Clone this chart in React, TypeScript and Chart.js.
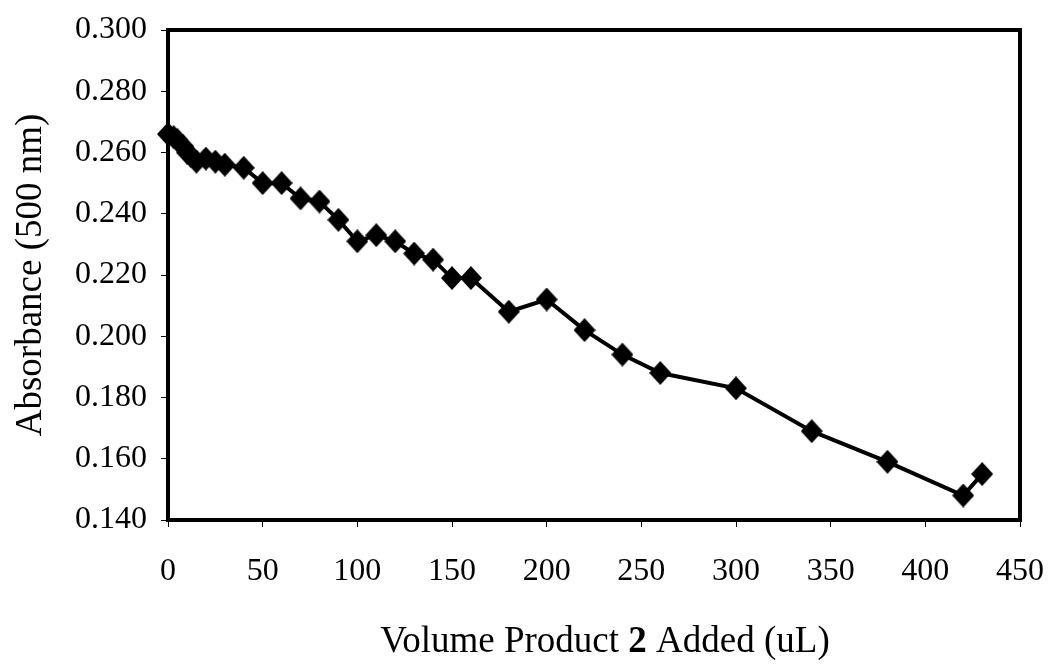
import React, { useEffect, useRef } from "react";
import { Chart, registerables } from "chart.js";

Chart.register(...registerables);

const volumes = [0, 3, 5, 8, 10, 12, 15, 20, 25, 30, 40, 50, 60, 70, 80, 90, 100, 110, 120, 130, 140, 150, 160, 180, 200, 220, 240, 260, 300, 340, 380, 420, 430];
const absorbance = [0.266, 0.265, 0.264, 0.262, 0.260, 0.259, 0.257, 0.258, 0.257, 0.256, 0.255, 0.250, 0.250, 0.245, 0.244, 0.238, 0.231, 0.233, 0.231, 0.227, 0.225, 0.219, 0.219, 0.208, 0.212, 0.202, 0.194, 0.188, 0.183, 0.169, 0.159, 0.148, 0.155];
const yTicks = [0.14, 0.16, 0.18, 0.2, 0.22, 0.24, 0.26, 0.28, 0.3];
const xTicks = [0, 50, 100, 150, 200, 250, 300, 350, 400, 450];
const yTitle = "Absorbance (500 nm)";
const xTitleParts = ["Volume Product ", "2", " Added (uL)"];

const SERIF = "'Liberation Serif', 'Times New Roman', serif";

function makeDiamond(): HTMLCanvasElement {
  const w = 22;
  const h = 24;
  const c = document.createElement("canvas");
  c.width = w;
  c.height = h;
  const g = c.getContext("2d")!;
  g.fillStyle = "#000";
  g.beginPath();
  g.moveTo(w / 2, 0);
  g.lineTo(w, h / 2);
  g.lineTo(w / 2, h);
  g.lineTo(0, h / 2);
  g.closePath();
  g.fill();
  return c;
}

const framePlugin = {
  id: "frame",
  beforeDatasetsDraw(chart: any) {
    const { ctx, chartArea } = chart;
    ctx.save();
    ctx.strokeStyle = "#000";
    ctx.lineWidth = 4;
    ctx.strokeRect(chartArea.left, chartArea.top, chartArea.right - chartArea.left, chartArea.bottom - chartArea.top);
    ctx.restore();
  },
  afterDraw(chart: any) {
    const { ctx } = chart;
    ctx.save();
    ctx.fillStyle = "#000";
    ctx.textBaseline = "alphabetic";
    const fonts = ["37px " + SERIF, "bold 37px " + SERIF, "37px " + SERIF];
    let total = 0;
    const widths = xTitleParts.map((t, i) => {
      ctx.font = fonts[i];
      const w = ctx.measureText(t).width;
      total += w;
      return w;
    });
    let x = 605 - total / 2;
    const y = 652;
    xTitleParts.forEach((t, i) => {
      ctx.font = fonts[i];
      ctx.textAlign = "left";
      ctx.fillText(t, x, y);
      x += widths[i];
    });
    ctx.restore();
  },
};

export default function App() {
  const ref = useRef<HTMLCanvasElement | null>(null);
  useEffect(() => {
    if (!ref.current) return;
    const diamond = makeDiamond();
    const chart = new Chart(ref.current, {
      type: "scatter",
      data: {
        datasets: [
          {
            data: volumes.map((v, i) => ({ x: v, y: absorbance[i] })),
            showLine: true,
            borderColor: "#000",
            backgroundColor: "#000",
            borderWidth: 4,
            pointStyle: diamond as any,
            pointRadius: 11,
            pointBorderWidth: 0,
            pointBackgroundColor: "#000",
            clip: false as any,
          },
        ],
      },
      options: {
        animation: false,
        responsive: false,
        layout: { padding: { top: 30, right: 30, left: 0, bottom: 0 } },
        plugins: { legend: { display: false }, tooltip: { enabled: false } },
        scales: {
          x: {
            type: "linear",
            min: 0,
            max: 450,
            afterBuildTicks: (s: any) => {
              s.ticks = xTicks.map((v) => ({ value: v }));
            },
            afterFit: (s: any) => {
              s.height = 144;
              s.paddingRight = 0;
              s.paddingLeft = 0;
            },
            grid: { drawOnChartArea: false, drawTicks: true, tickLength: 7, color: "#000", lineWidth: 1 },
            border: { display: true, color: "#000", width: 4 },
            ticks: { color: "#000", font: { family: SERIF, size: 32 }, padding: 25, maxRotation: 0 },
          },
          y: {
            type: "linear",
            min: 0.14,
            max: 0.3,
            afterBuildTicks: (s: any) => {
              s.ticks = yTicks.map((v) => ({ value: v }));
            },
            afterFit: (s: any) => {
              s.width = 168;
              s.paddingTop = 0;
              s.paddingBottom = 0;
            },
            grid: { drawOnChartArea: false, drawTicks: true, tickLength: 7, color: "#000", lineWidth: 1 },
            border: { display: true, color: "#000", width: 4 },
            ticks: {
              color: "#000",
              font: { family: SERIF, size: 32 },
              padding: 14,
              callback: (v: any) => Number(v).toFixed(3),
            },
            title: {
              display: true,
              text: yTitle,
              color: "#000",
              font: { family: SERIF, size: 37 },
              padding: { top: 9, bottom: 0 },
            },
          },
        },
      },
      plugins: [framePlugin],
    });
    return () => chart.destroy();
  }, []);
  return (
    <div style={{ position: "fixed", left: 0, top: 0, width: 1050, height: 664, background: "#fff" }}>
      <canvas ref={ref} width={1050} height={664} style={{ width: 1050, height: 664 }} />
    </div>
  );
}
